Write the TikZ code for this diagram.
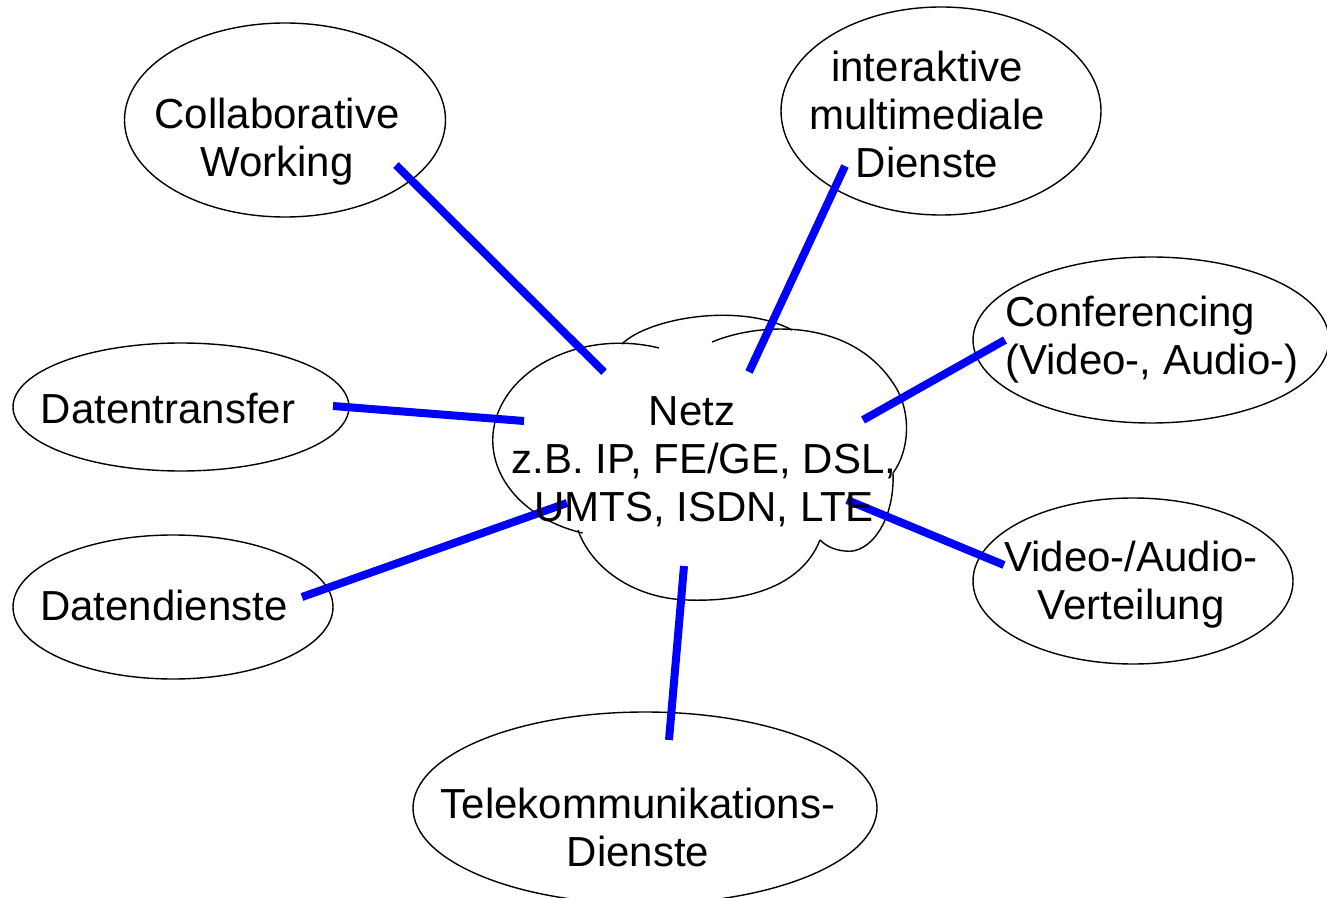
\documentclass[tikz,border=0pt]{standalone}
\usepackage{fontspec}
\setmainfont{Liberation Sans}
\usetikzlibrary{shapes.geometric}

\tikzset{
  dienst/.style={draw, ellipse, line width=0.7pt, inner sep=0pt},
  txt/.style={font=\fontsize{21}{24}\selectfont, align=center, inner sep=0pt},
  link/.style={draw=blue, line width=4pt},
  wolke/.style={line width=0.7pt}
}

\begin{document}
\begin{tikzpicture}[x=0.5pt, y=-0.5pt]
  \useasboundingbox (0,0) rectangle (1327,898);

  % service ellipses (size in pt = radius in px)
  \node[dienst, minimum width=160.5pt, minimum height=97pt] (collab) at (285,120) {};
  \node[dienst, minimum width=160pt, minimum height=104pt] (inter) at (941,111) {};
  \node[dienst, minimum width=178pt, minimum height=83pt] (conf) at (1151,340) {};
  \node[dienst, minimum width=168pt, minimum height=64pt] (transfer) at (181,407) {};
  \node[dienst, minimum width=160pt, minimum height=72pt] (daten) at (173,607) {};
  \node[dienst, minimum width=160pt, minimum height=83pt] (vertlg) at (1133,581) {};
  \node[dienst, minimum width=232pt, minimum height=96pt] (telekom) at (645,808) {};

  % the cloud, lobe by lobe
  \draw[wolke] (659,348) arc[start angle=-72, end angle=-253, x radius=127, y radius=97];
  \draw[wolke] (622,344) .. controls (648,318) and (740,302) .. (792,330);
  \draw[wolke] (712,342) .. controls (760,322) and (850,318) .. (893,383)
    .. controls (912,410) and (910,450) .. (893,473);
  \draw[wolke] (893,473) .. controls (895,520) and (870,555) .. (845,551)
    .. controls (833,550) and (825,545) .. (820,540);
  \draw[wolke] (820,540) .. controls (800,590) and (740,602) .. (687,600)
    .. controls (630,598) and (590,565) .. (578,530);

  % connectors: end in the service / end in the cloud
  \foreach \n/\ax/\ay/\bx/\by in {collab/396/165/604/372, inter/845/166/749/372,
      conf/1005/340/863/420, transfer/333/406/524/421, daten/302/597/567/503,
      vertlg/1004/565/847/500, telekom/669/740/684/566} {
    \coordinate (p-\n) at (\ax,\ay);
    \coordinate (q-\n) at (\bx,\by);
    \draw[link] (p-\n) -- (q-\n);
  }

  % texts
  \node[txt] (netz-t) at (704,462) {Netz\hspace*{12pt}\\z.B. IP, FE/GE, DSL,\\UMTS, ISDN, LTE};
  \node[txt] (collab-t) at (277,142) {Collaborative\\Working};
  \node[txt] (inter-t) at (927,114) {interaktive\\multimediale\\Dienste};
  \node[txt, align=left] (conf-t) at (1152,340) {Conferencing\\(Video-, Audio-)};
  \node[txt] (transfer-t) at (168,409) {Datentransfer};
  \node[txt] (daten-t) at (164,605) {Datendienste};
  \node[txt] (vertlg-t) at (1131,585) {Video-/Audio-\\Verteilung};
  \node[txt] (telekom-t) at (638,827) {Telekommunikations-\\Dienste};
\end{tikzpicture}
\end{document}
